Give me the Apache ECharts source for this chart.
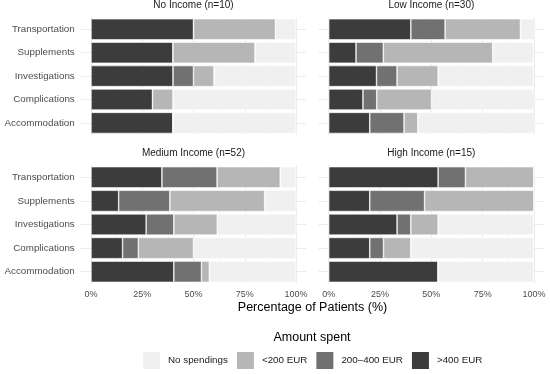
<!DOCTYPE html>
<html><head><meta charset="utf-8">
<script src="https://cdn.jsdelivr.net/npm/echarts@6/dist/echarts.min.js"></script>
<style>html,body{margin:0;padding:0;background:#fff}#c{width:550px;height:374px}</style>
</head><body><div id="c"></div>
<script>
const categories = ['Transportation','Supplements','Investigations','Complications','Accommodation'];
const levels = ['>400 EUR','200–400 EUR','<200 EUR','No spendings'];
const legendOrder = ['No spendings','<200 EUR','200–400 EUR','>400 EUR'];
const panelTitles = ['No Income (n=10)','Low Income (n=30)','Medium Income (n=52)','High Income (n=15)'];
const xTickLabels = [0,25,50,75,100];
const xGridValues = [0,12.5,25,37.5,50,62.5,75,87.5,100];

// percentages per category (Transportation..Accommodation)
const noIncomeOver400   = [50, 40, 40, 30, 40];
const noIncomeMid       = [0, 0, 10, 0, 0];
const noIncomeUnder200  = [40, 40, 10, 10, 0];
const noIncomeNone      = [10, 20, 40, 60, 60];

const lowIncomeOver400  = [40, 13.3, 23.3, 16.7, 20];
const lowIncomeMid      = [16.7, 13.3, 10, 6.7, 16.7];
const lowIncomeUnder200 = [36.7, 53.3, 20, 26.7, 6.7];
const lowIncomeNone     = [6.7, 20, 46.7, 50, 56.7];

const medIncomeOver400  = [34.6, 13.5, 26.9, 15.4, 40.4];
const medIncomeMid      = [26.9, 25.0, 13.5, 7.7, 13.5];
const medIncomeUnder200 = [30.8, 46.2, 21.2, 26.9, 3.8];
const medIncomeNone     = [7.7, 15.4, 38.5, 50.0, 42.3];

const highIncomeOver400 = [53.3, 20, 33.3, 20, 53.3];
const highIncomeMid     = [13.3, 26.7, 6.7, 6.7, 0];
const highIncomeUnder200= [33.3, 53.3, 13.3, 13.3, 0];
const highIncomeNone    = [0, 0, 46.7, 60, 46.7];

const panelData = [
  [noIncomeOver400, noIncomeMid, noIncomeUnder200, noIncomeNone],
  [lowIncomeOver400, lowIncomeMid, lowIncomeUnder200, lowIncomeNone],
  [medIncomeOver400, medIncomeMid, medIncomeUnder200, medIncomeNone],
  [highIncomeOver400, highIncomeMid, highIncomeUnder200, highIncomeNone]
];
const levelColors = {'>400 EUR':'#3c3c3c','200–400 EUR':'#717171','<200 EUR':'#b6b6b6','No spendings':'#eff0ef'};

const FONT = 'Liberation Sans, Arial, sans-serif';
const grids = [
  {left: 80.75, top: 17.6, width: 225.5, height: 117},
  {left: 318.45, top: 17.6, width: 225.8, height: 117},
  {left: 80.75, top: 165.5, width: 225.5, height: 118},
  {left: 318.45, top: 165.5, width: 225.8, height: 118}
];

const xAxes = [], yAxes = [], series = [], titles = [];
grids.forEach((g, i) => {
  const bottom = i >= 2, left = (i % 2 === 0);
  xAxes.push({
    type: 'value', gridIndex: i, min: -5, max: 105,
    axisLine: {show: false},
    axisTick: {show: false, customValues: xGridValues},
    axisLabel: {show: bottom, customValues: xTickLabels, formatter: v => v + '%', color: '#4d4d4d', fontSize: 9, fontFamily: FONT, margin: 7},
    splitLine: {show: true, lineStyle: {color: ['#ebebeb', '#f4f4f4'], width: 1}}
  });
  yAxes.push({
    type: 'category', gridIndex: i, data: categories, inverse: true,
    axisLine: {show: false}, axisTick: {show: false},
    axisLabel: {show: left, color: '#4d4d4d', fontSize: 9.8, fontFamily: FONT, margin: 6},
    splitLine: {show: true, alignWithLabel: true, lineStyle: {color: '#ebebeb', width: 1}}
  });
  levels.forEach((lv, k) => {
    series.push({
      type: 'bar', name: lv, xAxisIndex: i, yAxisIndex: i, stack: 'p' + i,
      data: panelData[i][k], barWidth: '90%',
      itemStyle: {color: levelColors[lv], borderColor: '#ffffff', borderWidth: 0.6},
      emphasis: {disabled: true}, silent: true
    });
  });
  titles.push({
    text: panelTitles[i], left: g.left + g.width / 2, top: bottom ? 148.5 : 0.5, textAlign: 'center', padding: 0,
    textStyle: {fontSize: 10, fontWeight: 'normal', color: '#1a1a1a', fontFamily: FONT}
  });
});
titles.push({text: 'Percentage of Patients (%)', left: 312.5, top: 301.5, textAlign: 'center', padding: 0,
  textStyle: {fontSize: 12.5, fontWeight: 'normal', color: '#000', fontFamily: FONT}});
titles.push({text: 'Amount spent', left: 312, top: 331, textAlign: 'center', padding: 0,
  textStyle: {fontSize: 12.5, fontWeight: 'normal', color: '#000', fontFamily: FONT}});

const chart = echarts.init(document.getElementById('c'), null, {renderer: 'canvas'});
chart.setOption({
  animation: false,
  backgroundColor: '#ffffff',
  title: titles,
  grid: grids,
  xAxis: xAxes,
  yAxis: yAxes,
  legend: {
    data: legendOrder, left: 143, top: 352, padding: 0, itemWidth: 17, itemHeight: 17, itemGap: 9,
    icon: 'rect', selectedMode: false,
    itemStyle: {borderWidth: 0},
    textStyle: {fontSize: 9.8, color: '#1a1a1a', fontFamily: FONT, padding: [0, 0, 0, 3]}
  },
  series: series
});
</script></body></html>
